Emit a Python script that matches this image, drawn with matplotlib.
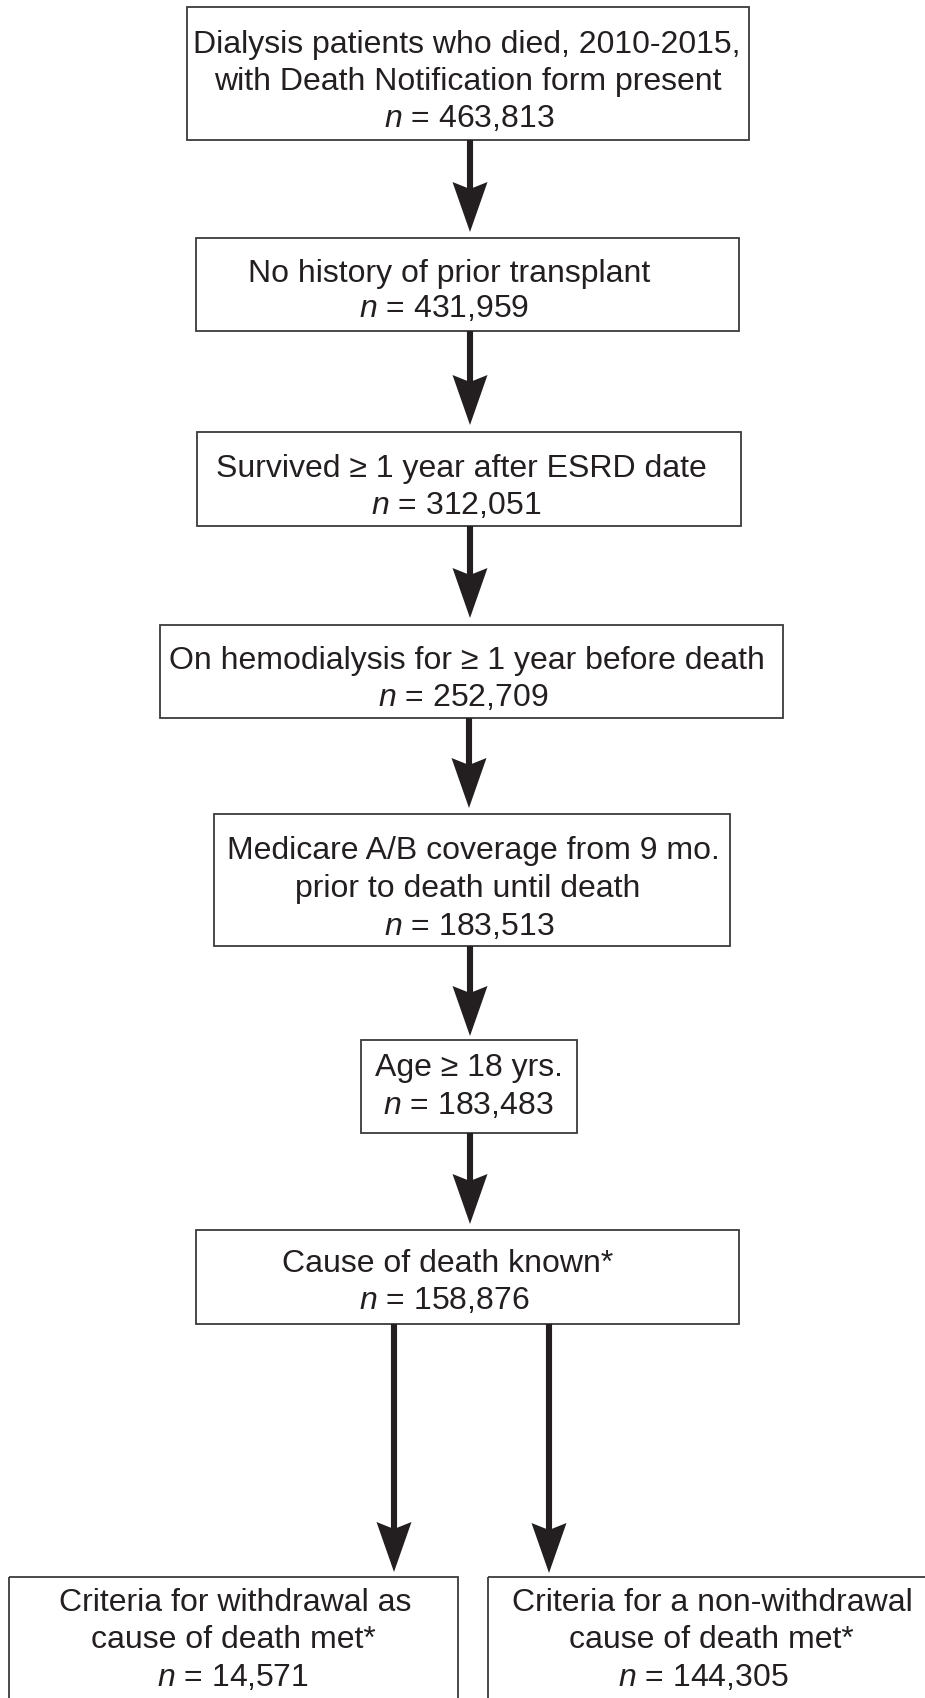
import matplotlib
matplotlib.use("Agg")
import matplotlib.pyplot as plt
from matplotlib.patches import Rectangle, Polygon

plt.rcParams['font.family'] = ['Liberation Sans', 'DejaVu Sans']
plt.rcParams['mathtext.fontset'] = 'custom'
plt.rcParams['mathtext.it'] = 'Liberation Sans:italic'
plt.rcParams['mathtext.rm'] = 'Liberation Sans'

# ---- content ----
box_texts = [
    ["Dialysis patients who died, 2010-2015,", "with Death Notification form present"],
    ["No history of prior transplant"],
    ["Survived \u2265 1 year after ESRD date"],
    ["On hemodialysis for \u2265 1 year before death"],
    ["Medicare A/B coverage from 9 mo.", "prior to death until death"],
    ["Age \u2265 18 yrs."],
    ["Cause of death known*"],
    ["Criteria for withdrawal as", "cause of death met*"],
    ["Criteria for a non-withdrawal", "cause of death met*"],
]
n_values = ["463,813", "431,959", "312,051", "252,709", "183,513",
            "183,483", "158,876", "14,571", "144,305"]

# ---- layout (pixel coordinates) ----
box_x0 = [187, 196, 197, 160, 214, 361, 196, 9, 488]
box_x1 = [749, 739, 741, 783, 730, 577, 739, 458, 935]
box_y0 = [7, 238, 432, 625, 814, 1040, 1230, 1577, 1577]
box_y1 = [140, 331, 526, 718, 946, 1133, 1324, 1720, 1720]
# baselines of each line (text lines then n line)
baselines = [
    [53, 90, 127],
    [282, 317],
    [477, 514],
    [669, 706],
    [859, 897, 935],
    [1076, 1114],
    [1272, 1309],
    [1611, 1648, 1686],
    [1611, 1648, 1686],
]
text_cx = [
    [467, 468, 469],
    [449, 444],
    [461, 456],
    [467, 463],
    [473, 468, 469],
    [469, 468],
    [448, 444],
    [235, 233, 233],
    [712, 711, 703],
]
arrows = [  # x, y_start, y_tip
    (470, 140, 232),
    (470, 331, 425),
    (470, 526, 618),
    (469, 718, 808),
    (470, 946, 1036),
    (470, 1133, 1224),
    (394, 1324, 1572),
    (549, 1324, 1573),
]

W, H = 925, 1698
fig = plt.figure(figsize=(W / 100, H / 100), dpi=100)
ax = fig.add_axes([0, 0, 1, 1])
ax.set_xlim(0, W)
ax.set_ylim(H, 0)
ax.axis('off')

txt_color = '#231f20'
fs = 23

for i in range(len(box_texts)):
    ax.add_patch(Rectangle((box_x0[i], box_y0[i]), box_x1[i] - box_x0[i],
                           box_y1[i] - box_y0[i], fill=False,
                           edgecolor='#3a3a3a', lw=1.3))
    lines = box_texts[i] + ["$n$ = " + n_values[i]]
    for j, line in enumerate(lines):
        ax.text(text_cx[i][j], baselines[i][j], line, ha='center',
                va='baseline', fontsize=fs, color=txt_color)

head_len, head_w, notch = 50, 35, 7
for (x, y0, y1) in arrows:
    ax.plot([x, x], [y0, y1 - head_len + notch + 2], color=txt_color,
            lw=4.4, solid_capstyle='butt')
    ax.add_patch(Polygon([(x, y1), (x - head_w / 2, y1 - head_len),
                          (x, y1 - head_len + notch),
                          (x + head_w / 2, y1 - head_len)],
                         closed=True, facecolor=txt_color, edgecolor='none'))

fig.savefig("out.png", dpi=100)
